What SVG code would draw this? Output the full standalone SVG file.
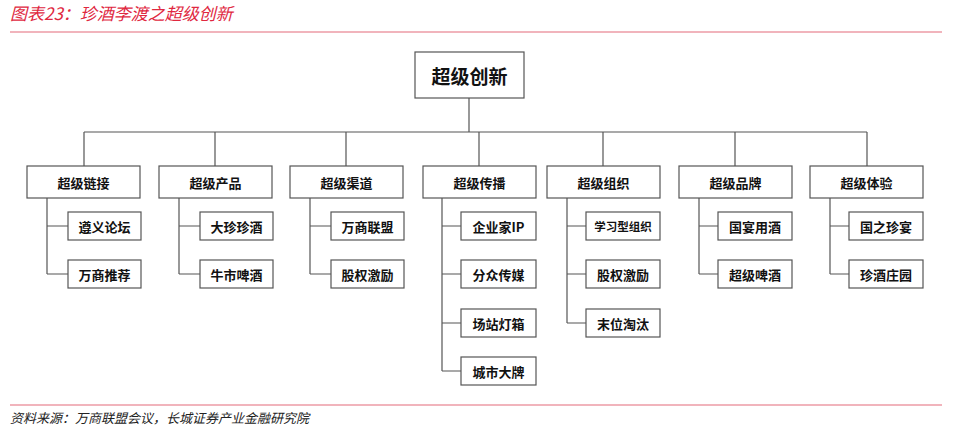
<svg xmlns="http://www.w3.org/2000/svg" width="960" height="433" viewBox="0 0 960 433">
<style>
.b{fill:#fff;stroke:#555;stroke-width:1.2}
.t{font-family:"Noto Sans CJK SC","Liberation Sans",sans-serif;font-weight:bold;fill:#111;text-anchor:middle;dominant-baseline:central}
.l{stroke:#555;stroke-width:1.2;fill:none}
.r{font-family:"Noto Sans CJK SC",sans-serif;font-style:italic;fill:#e0283f}
</style>
<rect width="960" height="433" fill="#fff"/>
<text class="r" x="10" y="20" font-size="17">图表23：珍酒李渡之超级创新</text>
<line x1="10" y1="32" x2="942" y2="32" stroke="#e46a7a" stroke-width="1.2"/>
<line x1="10" y1="405" x2="942" y2="405" stroke="#e46a7a" stroke-width="1.2"/>
<text class="r" x="10" y="423" font-size="13" fill="#222" style="fill:#222">资料来源：万商联盟会议，长城证券产业金融研究院</text>
<g id="connectors">
<path class="l" d="M469 98V132M84 132H867M84 132V166M215 132V166M346 132V166M479 132V166M603 132V166M735 132V166M867 132V166"/>
<path class="l" d="M47 198V274M47 226H68M47 274H68"/>
<path class="l" d="M179 198V274M179 226H200M179 274H200"/>
<path class="l" d="M310 198V274M310 226H331M310 274H331"/>
<path class="l" d="M442 198V371M442 226H461M442 274H461M442 323H461M442 371H461"/>
<path class="l" d="M567 198V323M567 226H586M567 274H586M567 323H586"/>
<path class="l" d="M699 198V274M699 226H718M699 274H718"/>
<path class="l" d="M830 198V274M830 226H849M830 274H849"/>
</g>
<g id="root"><rect class="b" x="415" y="52" width="109" height="46"/><text class="t" x="469.5" y="75" font-size="19">超级创新</text></g>
<g id="n1"><rect class="b" x="27" y="166" width="113" height="32"/><text class="t" x="83.5" y="182" font-size="13">超级链接</text></g>
<g id="n2"><rect class="b" x="159" y="166" width="113" height="32"/><text class="t" x="215.5" y="182" font-size="13">超级产品</text></g>
<g id="n3"><rect class="b" x="290" y="166" width="113" height="32"/><text class="t" x="346.5" y="182" font-size="13">超级渠道</text></g>
<g id="n4"><rect class="b" x="423" y="166" width="113" height="32"/><text class="t" x="479.5" y="182" font-size="13">超级传播</text></g>
<g id="n5"><rect class="b" x="547" y="166" width="113" height="32"/><text class="t" x="603.5" y="182" font-size="13">超级组织</text></g>
<g id="n6"><rect class="b" x="679" y="166" width="113" height="32"/><text class="t" x="735.5" y="182" font-size="13">超级品牌</text></g>
<g id="n7"><rect class="b" x="810" y="166" width="113" height="32"/><text class="t" x="866.5" y="182" font-size="13">超级体验</text></g>
<g id="c11"><rect class="b" x="68" y="212" width="73" height="28"/><text class="t" x="104.5" y="226" font-size="13">遵义论坛</text></g>
<g id="c12"><rect class="b" x="68" y="260" width="73" height="28"/><text class="t" x="104.5" y="274" font-size="13">万商推荐</text></g>
<g id="c21"><rect class="b" x="200" y="212" width="73" height="28"/><text class="t" x="236.5" y="226" font-size="13">大珍珍酒</text></g>
<g id="c22"><rect class="b" x="200" y="260" width="73" height="28"/><text class="t" x="236.5" y="274" font-size="13">牛市啤酒</text></g>
<g id="c31"><rect class="b" x="331" y="212" width="73" height="28"/><text class="t" x="367.5" y="226" font-size="13">万商联盟</text></g>
<g id="c32"><rect class="b" x="331" y="260" width="73" height="28"/><text class="t" x="367.5" y="274" font-size="13">股权激励</text></g>
<g id="c41"><rect class="b" x="461" y="212" width="75" height="28"/><text class="t" x="498.5" y="226" font-size="13">企业家IP</text></g>
<g id="c42"><rect class="b" x="461" y="260" width="75" height="28"/><text class="t" x="498.5" y="274" font-size="13">分众传媒</text></g>
<g id="c43"><rect class="b" x="461" y="309" width="75" height="28"/><text class="t" x="498.5" y="323" font-size="13">场站灯箱</text></g>
<g id="c44"><rect class="b" x="461" y="357" width="75" height="28"/><text class="t" x="498.5" y="371" font-size="13">城市大牌</text></g>
<g id="c51"><rect class="b" x="586" y="212" width="74" height="28"/><text class="t" x="623" y="226" font-size="11.5">学习型组织</text></g>
<g id="c52"><rect class="b" x="586" y="260" width="74" height="28"/><text class="t" x="623" y="274" font-size="13">股权激励</text></g>
<g id="c53"><rect class="b" x="586" y="309" width="74" height="28"/><text class="t" x="623" y="323" font-size="13">末位淘汰</text></g>
<g id="c61"><rect class="b" x="718" y="212" width="74" height="28"/><text class="t" x="755" y="226" font-size="13">国宴用酒</text></g>
<g id="c62"><rect class="b" x="718" y="260" width="74" height="28"/><text class="t" x="755" y="274" font-size="13">超级啤酒</text></g>
<g id="c71"><rect class="b" x="849" y="212" width="74" height="28"/><text class="t" x="886" y="226" font-size="13">国之珍宴</text></g>
<g id="c72"><rect class="b" x="849" y="260" width="74" height="28"/><text class="t" x="886" y="274" font-size="13">珍酒庄园</text></g>
</svg>
